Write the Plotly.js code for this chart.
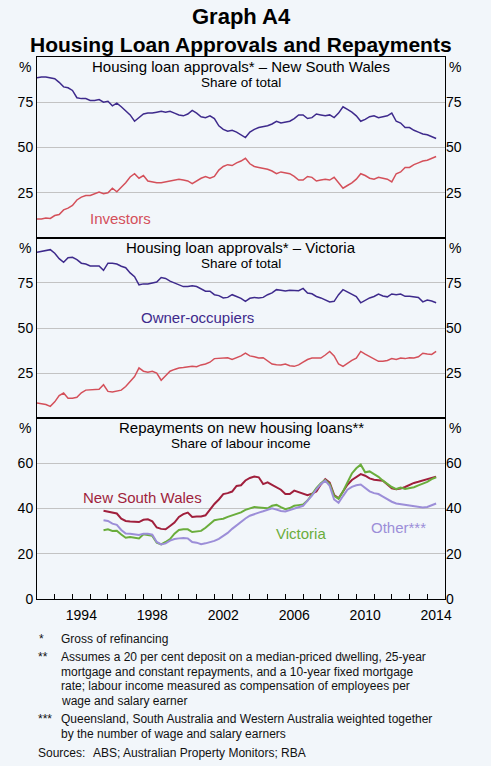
<!DOCTYPE html>
<html>
<head>
<meta charset="utf-8">
<script src="https://cdn.plot.ly/plotly-3.0.1.min.js"></script>
<style>
html,body{margin:0;padding:0;background:#f2f6fa;}
#chart{width:491px;height:766px;}
</style>
</head>
<body>
<div id="chart"></div>
<script>
// ---------- DATA ----------
// Quarterly approvals, 1992 Q1 .. 2014 Q3 (share of total, %)
const approvalStart = 1992.0;
const nswOwner = [
  88.5, 89, 89, 88.5,   88, 86, 83.5, 83,   81.5, 77.5, 77, 77,   76, 76, 76.5, 75,
  75.5, 73, 74.5, 72.5, 70, 68, 64.5, 66.5, 68.5, 69, 69, 69.5, 70, 69.5, 70, 69,
  68, 67.5, 68.5, 70.5, 69, 67, 66.5, 67.5, 66, 62, 60, 59,     59.5, 58.5, 57, 55.5,
  58.5, 60, 61, 61.5,   62, 63, 64.5, 63.5, 64, 64.5, 66, 68,   68, 66, 66.5, 68.5,
  68, 67.5, 68, 66.5,   69, 72.5, 71, 69.5, 67.5, 64.5, 65.5, 67, 67.5, 66.5, 67, 67.5,
  69, 64.5, 63.5, 61,   61, 59.5, 58.5, 57.5, 57, 56, 55
];
const nswInvestors = [
  10.5, 10.5, 11, 10.8, 12.4, 13, 15.5, 16.5, 18, 21, 22.6, 23.5, 23.5, 24.5, 25.4, 24.5,
  25, 27.5, 25.5, 28,   30.5, 33.7, 35.5, 33, 34.5, 31.5, 31, 30.5, 30.5, 31, 31.5, 32,
  32.5, 32, 31.5, 30,   31.5, 33, 34, 33,     34, 37.5, 39.5, 40.5, 40, 41.5, 42.5, 44,
  41, 39.5, 39, 38.5,   38, 37, 35.5, 36.5,   36, 35.5, 34, 32,     32, 34, 33.5, 31.5,
  32, 32.5, 32, 33.5,   30.5, 27.5, 29, 30.5, 32.5, 35.5, 34.5, 33, 32.5, 33.5, 33, 32.5,
  31, 35.5, 36.5, 39,   39, 40.5, 41.5, 42.5, 43, 44, 45
];
const vicOwner = [
  92, 92.5, 93, 93.5,   91.5, 88.5, 86.5, 89, 89.3, 88, 86, 85.5, 84.5, 84.3, 84.5, 82,
  86, 86, 85.5, 84.3,   83.5, 80.6, 78.5, 74, 74.5, 74.5, 74.8, 75.5, 78, 77.5, 76, 75,
  74, 73, 73, 73.5,     73, 71.5, 70.4, 70.4, 68.5, 68, 66.7, 67,   68.5, 67.5, 66.5, 64.8,
  66.5, 67, 66.7, 67,   68.5, 69.5, 71.3, 71, 70.5, 71, 70.7, 70.7, 72, 69.4, 69, 67.5,
  66.7, 65.5, 64.5, 64.8, 68.5, 71.3, 70, 69, 67.5, 64, 65.5, 66.7, 67.5, 68.9, 67.8, 67.3,
  68.9, 68.5, 68.9, 67.6, 67.6, 67.3, 67, 64.5, 65.5, 65, 64
];
const vicInvestors = [
  8.3, 8, 7.5, 6.5,     9, 12.5, 13.9, 11,  11, 11.5, 14, 15.5,   15.7, 15.5, 16, 18.5,
  14.8, 14.5, 15, 15.5, 17.5, 20.4, 23, 27.8, 26, 25.5, 26, 25,   21, 23.5, 26, 27,
  27.8, 28, 28.5, 28.7, 28.5, 29.5, 30, 31,  33, 33.3, 33.5, 33.5, 32.5, 33.5, 34.5, 36,
  34.5, 34, 33.3, 33.5, 31.5, 30, 29.6, 29.5, 30, 29, 28.7, 29.5,  31, 32.5, 33.3, 33.5,
  33.3, 35, 37, 34.5,   30, 28.7, 30.5, 32, 33.3, 37, 35.5, 34.3,  33, 31.5, 31.5, 32,
  33, 32.5, 33.3, 33,   33.5, 33.3, 34, 36, 35.5, 35.3, 37
];

// Quarterly repayments, 1995 Q4 .. 2014 Q3 (share of labour income, %)
const repayStart = 1995.75;
const nswRepay = [
  39,
  38.5, 38, 37.8, 35.5, 34.5, 34.3, 34.2, 34,  35, 35.2, 34.3, 31.6, 31, 30.8, 32.3, 33.8,
  36.3, 37.5, 38.2, 36.3, 36.5, 36.5, 37, 39.7, 42, 44, 46.4, 46.8,   47.5, 50, 50.3, 52.4,
  53.5, 54.1, 53.8, 50.8, 51.6, 50.5, 49.4, 48.3, 46.4, 46.4, 47.9, 47.3, 46.6, 45.9, 46.6, 47.5,
  50.6, 53, 51.5, 46,  44.5, 47.5, 50.5, 52.6,  54.1, 55.2, 54.5, 53.3, 52.7, 52.5, 52.3, 50.6,
  48.9, 48.5, 48.8, 49.5, 50.5, 51.3, 51.8, 52.3, 52.8, 53.6, 54.1
];
const vicRepay = [
  30.4,
  30.8, 30.1, 30.2, 28.5, 27.1, 27.4, 27, 26.8,  28.6, 28.4, 27.9, 24.9, 24.1, 25.2, 26.5, 28.9,
  30.5, 30.8, 30.8, 29.6, 29.8, 30.1, 31.5, 33,  34.8, 35.2, 35.5, 36.3, 37, 37.7, 38.3, 39.4,
  40.2, 40.7, 40.5, 40.3, 40.1, 41.2, 41.6, 40.6, 39.7, 40.2, 41.2, 41.5, 41.8, 43.5, 46.3, 49,
  51.2, 52.6, 50.8, 45.6, 44.3, 47.5, 51.5, 55.5, 57.8, 59.4, 56, 56.4, 55.2, 54, 52.3, 51,
  49.5, 48.6, 49.3, 48.6, 48.9, 49.4, 50.2, 51, 51.8, 53, 53.8
];
const otherRepay = [
  34.8,
  34.5, 33.3, 32.8, 30.5, 28.9, 28.8, 28.6, 28.3,  28.8, 28.8, 28.4, 25.2, 24.1, 24.6, 25.8, 26.5,
  26.8, 27, 26.8, 25.2, 24.9, 24.2, 24.6, 25,  25.7, 26.6, 27.8, 29.2, 31, 32.6, 34, 35.6,
  36.8, 37.6, 38.2, 38.8, 39.5, 40.1, 39.5, 38.9, 38.7, 39.3, 40.2, 40.5, 41.2, 43.5, 45.7, 48.5,
  50.8, 52.3, 50, 44,  42.5, 45.5, 48.3, 49.6, 50.3, 50.6, 49, 47.6, 46.8, 46.4, 45.3, 44,
  43, 42.2, 41.9, 41.6, 41.2, 40.7, 40.5, 40.4, 40.7, 41.6, 42.2
];

const yearLabels = ['1994', '1998', '2002', '2006', '2010', '2014'];
const yearTicks = [1993,1994,1995,1996,1997,1998,1999,2000,2001,2002,2003,2004,2005,2006,2007,2008,2009,2010,2011,2012,2013,2014];
const approvalTicks = [25, 50, 75];
const repayTicks = [0, 20, 40, 60];

// ---------- BUILD ----------
function quarters(start, n) { const a = []; for (let i = 0; i < n; i++) a.push(start + i * 0.25); return a; }
const xA = quarters(approvalStart, nswOwner.length);
const xR = quarters(repayStart, nswRepay.length);

const FONT = 'Liberation Sans, Arial, sans-serif';
const PURPLE = '#3e2a8c', RED = '#d4505a', DKRED = '#a01f3c', GREEN = '#6aad3c', LAV = '#9c8ed8';
const BG = '#f2f6fa', GRID = '#c3c3c3';

const traces = [
  {x: xA, y: nswOwner, xaxis: 'x', yaxis: 'y', mode: 'lines', line: {color: PURPLE, width: 1.5}},
  {x: xA, y: nswInvestors, xaxis: 'x', yaxis: 'y', mode: 'lines', line: {color: RED, width: 1.5}},
  {x: xA, y: vicOwner, xaxis: 'x2', yaxis: 'y2', mode: 'lines', line: {color: PURPLE, width: 1.5}},
  {x: xA, y: vicInvestors, xaxis: 'x2', yaxis: 'y2', mode: 'lines', line: {color: RED, width: 1.5}},
  {x: xR, y: nswRepay, xaxis: 'x3', yaxis: 'y3', mode: 'lines', line: {color: DKRED, width: 2}},
  {x: xR, y: vicRepay, xaxis: 'x3', yaxis: 'y3', mode: 'lines', line: {color: GREEN, width: 2}},
  {x: xR, y: otherRepay, xaxis: 'x3', yaxis: 'y3', mode: 'lines', line: {color: LAV, width: 2}},
  // empty traces so the right-hand (mirrored) value axes are drawn
  {x: [], y: [], xaxis: 'x', yaxis: 'y4', mode: 'lines', hoverinfo: 'skip'},
  {x: [], y: [], xaxis: 'x2', yaxis: 'y5', mode: 'lines', hoverinfo: 'skip'},
  {x: [], y: [], xaxis: 'x3', yaxis: 'y6', mode: 'lines', hoverinfo: 'skip'}
];

const d3 = [0, 0.3339], d2 = [0.3339, 0.6661], d1 = [0.6661, 1];
const XR = [1992, 2015];

function xAx(anchor, bottom) {
  const a = {domain: [0, 1], anchor: anchor, range: XR, showline: true, mirror: true, linecolor: '#000', linewidth: 1,
    showgrid: false, zeroline: false, ticks: '', showticklabels: false, fixedrange: true};
  if (bottom) {
    a.showticklabels = true;
    a.tickmode = 'array';
    a.tickvals = yearLabels.map(s => Number(s) + 0.5);
    a.ticktext = yearLabels;
    a.ticklabelstandoff = 3;
    a.tickfont = {family: FONT, size: 14, color: '#000'};
    a.minor = {tickmode: 'array', tickvals: yearTicks, ticks: 'inside', ticklen: 5, tickcolor: '#000', tickwidth: 1, showgrid: false};
  }
  return a;
}
function yAx(dom, anchor, range, ticks, right, over) {
  const a = {domain: dom, anchor: anchor, range: range, tickmode: 'array', tickvals: ticks,
    tickfont: {family: FONT, size: 14, color: '#000'}, ticks: '', zeroline: false, fixedrange: true};
  if (right) {
    a.side = 'right'; a.overlaying = over; a.showgrid = false; a.showline = false;
  } else {
    a.showgrid = true; a.gridcolor = GRID; a.gridwidth = 1; a.showline = true; a.mirror = true; a.linecolor = '#000'; a.linewidth = 1;
  }
  return a;
}

function pct(yref) {
  return [
    {text: '%', xref: 'paper', yref: yref + ' domain', x: 0, y: 1, xanchor: 'right', yanchor: 'top', xshift: -4, showarrow: false, font: {family: FONT, size: 14, color: '#000'}},
    {text: '%', xref: 'paper', yref: yref + ' domain', x: 1, y: 1, xanchor: 'left', yanchor: 'top', xshift: 2, showarrow: false, font: {family: FONT, size: 14, color: '#000'}}
  ];
}
function panelTitle(yref, t1, t2) {
  return [
    {text: t1, xref: 'paper', yref: yref + ' domain', x: 0.5, y: 1, xanchor: 'center', yanchor: 'top', yshift: 1, showarrow: false, font: {family: FONT, size: 15, color: '#000'}},
    {text: t2, xref: 'paper', yref: yref + ' domain', x: 0.5, y: 1, xanchor: 'center', yanchor: 'top', yshift: -16, showarrow: false, font: {family: FONT, size: 13.5, color: '#000'}}
  ];
}
function seriesLabel(t, x, y, xr, yr, col) {
  return {text: t, x: x, y: y, xref: xr, yref: yr, xanchor: 'left', yanchor: 'middle', showarrow: false, font: {family: FONT, size: 15, color: col}};
}
// text outside the plots, positioned in paper space (paper: x 37..445 px, y 57..599 px)
function px(x) { return (x - 37) / 408; }
function py(y) { return (599 - y) / 542; }
function note(t, x, y) {
  return {text: t, xref: 'paper', yref: 'paper', x: px(x), y: py(y), xanchor: 'left', yanchor: 'middle', showarrow: false, font: {family: FONT, size: 12, color: '#111'}};
}
function heading(t, y, size) {
  return {text: '<b>' + t + '</b>', xref: 'paper', yref: 'paper', x: 0.5, y: py(y), xanchor: 'center', yanchor: 'middle', showarrow: false, font: {family: FONT, size: size, color: '#000'}};
}

const annotations = [].concat(
  [heading('Graph A4', 16, 22), heading('Housing Loan Approvals and Repayments', 44, 21)],
  pct('y'), pct('y2'), pct('y3'),
  panelTitle('y', 'Housing loan approvals* – New South Wales', 'Share of total'),
  panelTitle('y2', 'Housing loan approvals* – Victoria', 'Share of total'),
  panelTitle('y3', 'Repayments on new housing loans**', 'Share of labour income'),
  [
    seriesLabel('Investors', 1994.89, 10.5, 'x', 'y', RED),
    seriesLabel('Owner-occupiers', 1997.76, 55.7, 'x2', 'y2', PURPLE),
    seriesLabel('New South Wales', 1994.46, 44.8, 'x3', 'y3', DKRED),
    seriesLabel('Victoria', 2005.37, 29.0, 'x3', 'y3', GREEN),
    seriesLabel('Other***', 2010.70, 31.5, 'x3', 'y3', LAV),
    note('*', 37, 638.5), note('Gross of refinancing', 59, 638.5),
    note('**', 36, 656.5), note('Assumes a 20 per cent deposit on a median-priced dwelling, 25-year', 59, 656.5),
    note('mortgage and constant repayments, and a 10-year fixed mortgage', 59, 671.5),
    note('rate; labour income measured as compensation of employees per', 59, 686),
    note('wage and salary earner', 59, 701),
    note('***', 36, 719), note('Queensland, South Australia and Western Australia weighted together', 59, 719),
    note('by the number of wage and salary earners', 59, 734),
    note('Sources:', 36, 752.5), note('ABS; Australian Property Monitors; RBA', 91, 752.5)
  ]
);

const layout = {
  width: 491, height: 766,
  paper_bgcolor: BG, plot_bgcolor: BG,
  margin: {l: 37, r: 46, t: 57, b: 167},
  showlegend: false,
  font: {family: FONT, color: '#000'},
  xaxis: xAx('y', false), xaxis2: xAx('y2', false), xaxis3: xAx('y3', true),
  yaxis: yAx(d1, 'x', [0, 100], approvalTicks, false),
  yaxis2: yAx(d2, 'x2', [0, 100], approvalTicks, false),
  yaxis3: yAx(d3, 'x3', [0, 80], repayTicks, false),
  yaxis4: yAx(d1, 'x', [0, 100], approvalTicks, true, 'y'),
  yaxis5: yAx(d2, 'x2', [0, 100], approvalTicks, true, 'y2'),
  yaxis6: yAx(d3, 'x3', [0, 80], repayTicks, true, 'y3'),
  annotations: annotations
};

Plotly.newPlot('chart', traces, layout, {staticPlot: true, displayModeBar: false});
</script>
</body>
</html>
